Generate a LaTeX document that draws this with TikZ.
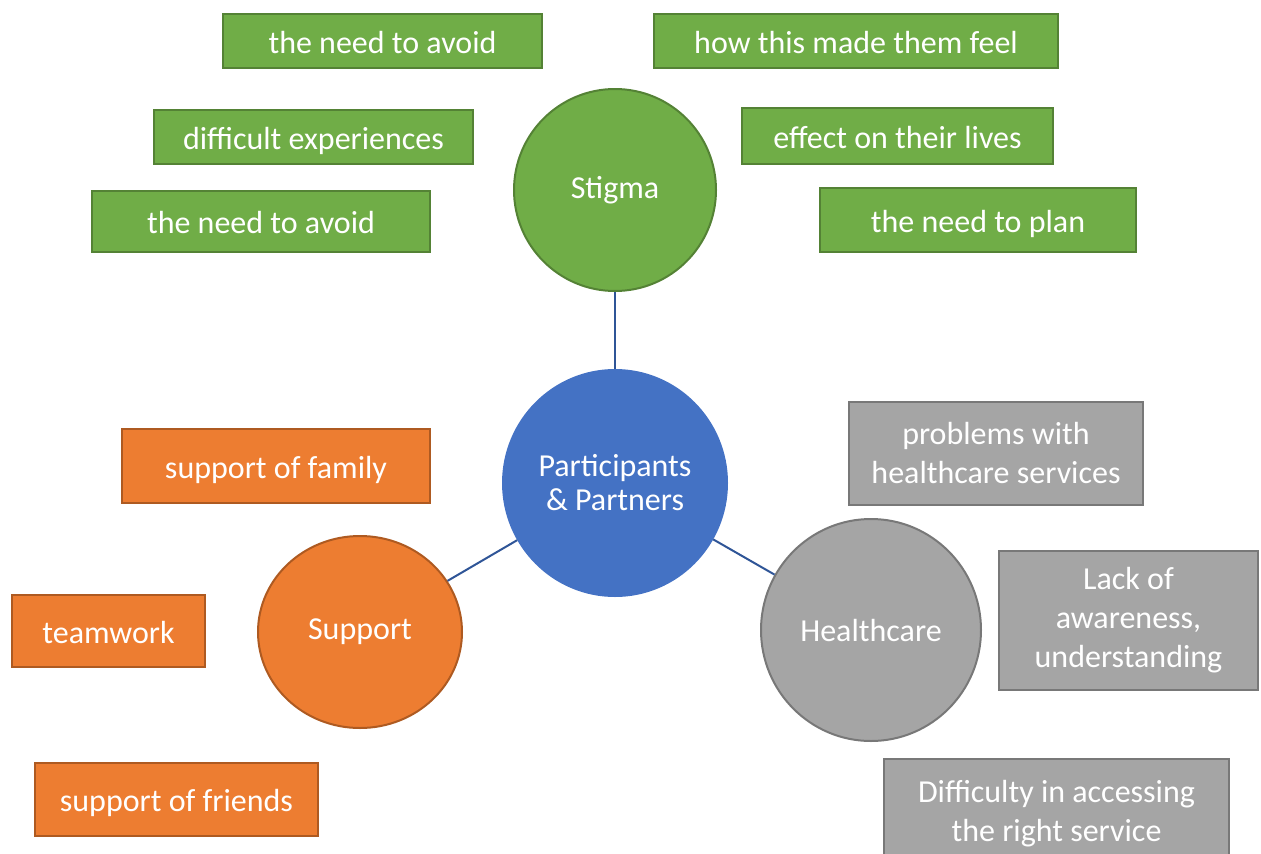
\documentclass[tikz,border=0pt]{standalone}
\usepackage{fontspec}
\setmainfont{Carlito}
\usepackage{xcolor}
\usetikzlibrary{shapes.geometric}
\definecolor{stigmaGreen}{RGB}{112,173,71}
\definecolor{stigmaEdge}{RGB}{84,130,53}
\definecolor{supportOrange}{RGB}{237,125,49}
\definecolor{supportEdge}{RGB}{174,90,33}
\definecolor{healthGray}{RGB}{165,165,165}
\definecolor{healthEdge}{RGB}{120,120,120}
\definecolor{centreBlue}{RGB}{68,114,196}
\definecolor{linkBlue}{RGB}{47,85,151}

\begin{document}
\begin{tikzpicture}[x=1pt,y=-1pt,
  every node/.style={text=white, font=\fontsize{32}{39}\selectfont, align=center, inner sep=0pt},
  tagbox/.style={rectangle, line width=2pt, minimum width=#1},
  oneline/.style={text height=24pt, text depth=0pt},
  greenbox/.style={tagbox=#1, oneline, fill=stigmaGreen, draw=stigmaEdge},
  orangebox/.style={tagbox=#1, oneline, fill=supportOrange, draw=supportEdge},
  graybox/.style={tagbox=#1, fill=healthGray, draw=healthEdge},
  bubble/.style={ellipse, line width=2pt},
  link/.style={draw=linkBlue, line width=2pt},
]
\useasboundingbox (0,0) rectangle (1261,854);
\clip (0,0) rectangle (1261,854);

% themes
\node [bubble, fill=centreBlue, draw=centreBlue, minimum width=224, minimum height=226,
       font=\fontsize{32}{34}\selectfont] (centre) at (615,483) {Participants\\\& Partners};
\node [bubble, fill=stigmaGreen, draw=stigmaEdge, minimum width=202, minimum height=202] (stigma) at (615,190) {Stigma};
\node [bubble, fill=supportOrange, draw=supportEdge, minimum width=204, minimum height=192] (support) at (360,632) {Support};
\node [bubble, fill=healthGray, draw=healthEdge, minimum width=220, minimum height=222] (health) at (871,630) {Healthcare};

\draw [link] (centre) -- (stigma);
\draw [link] (centre) -- (support);
\draw [link] (centre) -- (health);

% stigma
\node [greenbox=319, minimum height=54] (avoidA) at (382.5,41) {the need to avoid};
\node [greenbox=404, minimum height=54] (feel) at (856,41) {how this made them feel};
\node [greenbox=319, minimum height=54] (difficult) at (313.5,137) {difficult experiences};
\node [greenbox=311, minimum height=56] (effect) at (897.5,136) {effect on their lives};
\node [greenbox=338, minimum height=61] (avoidB) at (261,221.5) {the need to avoid};
\node [greenbox=316, minimum height=64] (plan) at (978,220) {the need to plan};

% support
\node [orangebox=308, minimum height=74] (family) at (276,466) {support of family};
\node [orangebox=193, minimum height=72] (teamwork) at (108.5,631) {teamwork};
\node [orangebox=283, minimum height=73] (friends) at (176.5,799.5) {support of friends};

% healthcare
\node [graybox=294, minimum height=103] (problems) at (996,453) {problems with\\healthcare services};
\node [graybox=259, minimum height=139] (lack) at (1128.5,620) {Lack of\\awareness,\\understanding};
\node [graybox=345, minimum height=110] (access) at (1056.5,814) {Difficulty in accessing\\the right service};
\end{tikzpicture}
\end{document}
